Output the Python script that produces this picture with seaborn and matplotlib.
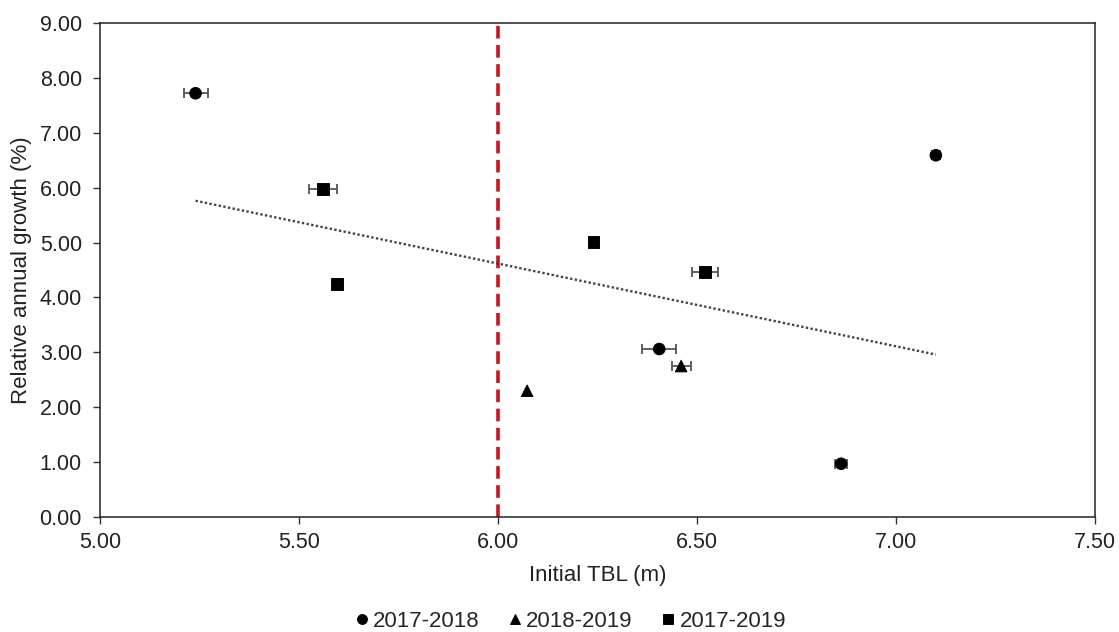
import matplotlib
matplotlib.use("Agg")
import matplotlib.pyplot as plt
import seaborn as sns
import pandas as pd
import numpy as np

sns.set_theme(style="white")
plt.rcParams['font.family'] = ['Liberation Sans', 'DejaVu Sans']

periods = ["2017-2018", "2017-2019", "2017-2019", "2017-2019", "2017-2019",
           "2017-2018", "2018-2019", "2018-2019", "2017-2018", "2017-2018"]
initial_tbl = [5.24, 5.56, 5.595, 6.24, 6.52, 6.405, 6.46, 6.073, 6.862, 7.10]
growth = [7.72, 5.97, 4.24, 5.01, 4.46, 3.06, 2.75, 2.30, 0.97, 6.59]
x_err = [0.03, 0.035, 0.0, 0.0, 0.033, 0.043, 0.024, 0.0, 0.015, 0.01]

df = pd.DataFrame({"Initial TBL (m)": initial_tbl,
                   "Relative annual growth (%)": growth,
                   "period": periods, "xerr": x_err})

fig = plt.figure(figsize=(11.19, 6.32), dpi=100)
ax = fig.add_axes([0.0894, 0.182, 0.8892, 0.7816])

# error bars
for _, r in df.iterrows():
    if r["xerr"] > 0:
        ax.errorbar(r["Initial TBL (m)"], r["Relative annual growth (%)"], xerr=r["xerr"],
                    fmt="none", ecolor="#555555", elinewidth=1.3, capsize=3.5, capthick=1.3, zorder=2)

# trendline
sns.regplot(data=df, x="Initial TBL (m)", y="Relative annual growth (%)", ax=ax,
            scatter=False, ci=None, truncate=True,
            line_kws=dict(color="#444444", linestyle=(0, (1, 1.0)), linewidth=1.7, zorder=1))

sns.scatterplot(data=df, x="Initial TBL (m)", y="Relative annual growth (%)", style="period",
                markers={"2017-2018": "o", "2018-2019": "^", "2017-2019": "s"},
                style_order=["2017-2018", "2018-2019", "2017-2019"],
                color="black", edgecolor="black", s=70, ax=ax, zorder=3, legend=True)

ax.axvline(6.0, color="#C8161D", linestyle=(0, (3.5, 1.8)), linewidth=2.6, zorder=0)

ax.set_xlim(5.0, 7.5)
ax.set_ylim(0, 9)
ax.set_xticks(np.arange(5.0, 7.51, 0.5))
ax.set_yticks(np.arange(0, 9.01, 1))
ax.xaxis.set_major_formatter(matplotlib.ticker.FormatStrFormatter("%.2f"))
ax.yaxis.set_major_formatter(matplotlib.ticker.FormatStrFormatter("%.2f"))
ax.tick_params(axis="both", direction="out", length=5, width=1, color="#333333",
               labelsize=15.5, labelcolor="#222222", left=True, bottom=True)
ax.tick_params(axis="y", pad=8)
ax.tick_params(axis="x", pad=6)
for s in ax.spines.values():
    s.set_color("#222222")
    s.set_linewidth(1.1)
ax.set_xlabel("Initial TBL (m)", fontsize=16, color="#222222")
ax.set_ylabel("Relative annual growth (%)", fontsize=16, color="#222222")
ax.xaxis.set_label_coords(0.5, -0.097)
ax.yaxis.set_label_coords(-0.068, 0.5)

handles, labels = ax.get_legend_handles_labels()
ax.get_legend().remove()
fig.legend(handles, labels, loc="center", bbox_to_anchor=(0.507, 0.0174), ncol=3,
           frameon=False, fontsize=16, handletextpad=-0.1, columnspacing=1.0,
           markerscale=0.85, handlelength=1.2, borderpad=0)

fig.savefig("out.png", dpi=100)
